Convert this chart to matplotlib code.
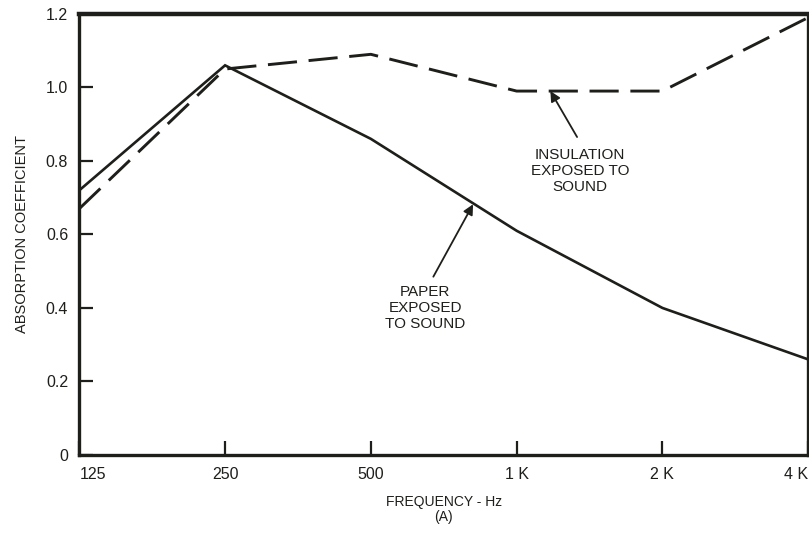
import numpy as np
import matplotlib.pyplot as plt

plt.rcParams['font.family'] = ['Liberation Sans', 'DejaVu Sans']

freqs = [125, 250, 500, 1000, 2000, 4000]
tick_labels = ['125', '250', '500', '1 K', '2 K', '4 K']
paper = [0.72, 1.06, 0.86, 0.61, 0.40, 0.26]
insulation = [0.67, 1.05, 1.09, 0.99, 0.99, 1.19]
y_ticks = [0, 0.2, 0.4, 0.6, 0.8, 1.0, 1.2]
y_tick_labels = ['0', '0.2', '0.4', '0.6', '0.8', '1.0', '1.2']

ink = '#1e1e1a'

fig = plt.figure(figsize=(8.09, 5.34), dpi=100)
ax = fig.add_axes([0.098, 0.148, 0.901, 0.826])

ax.plot(freqs, paper, color=ink, lw=1.9, solid_joinstyle='miter')
ax.plot(freqs, insulation, color=ink, lw=2.1, dashes=(10, 4))

ax.set_xscale('log')
ax.set_xlim(125, 4000)
ax.set_ylim(0, 1.2)
ax.set_xticks(freqs)
ax.set_xticklabels(tick_labels)
ax.minorticks_off()
ax.set_yticks(y_ticks)
ax.set_yticklabels(y_tick_labels)
ax.tick_params(axis='both', direction='in', length=10, width=1.6, color=ink,
               labelsize=11.5, labelcolor=ink)
ax.tick_params(axis='x', pad=9)
ax.tick_params(axis='y', pad=8)
xl = ax.get_xticklabels()
xl[0].set_horizontalalignment('left')
xl[-1].set_horizontalalignment('right')

for s in ax.spines.values():
    s.set_linewidth(2.4)
    s.set_color(ink)
ax.spines['top'].set_linewidth(3.2)

ax.set_ylabel('ABSORPTION COEFFICIENT', fontsize=10.5, color=ink, labelpad=12)
ax.set_xlabel('FREQUENCY - Hz\n(A)', fontsize=10, color=ink, labelpad=9,
              linespacing=1.1)

arrow = dict(arrowstyle='-|>', color=ink, lw=1.3, mutation_scale=15,
             shrinkA=0, shrinkB=0)

ax.text(1353, 0.772, 'INSULATION\nEXPOSED TO\nSOUND', ha='center', va='center',
        fontsize=11, color=ink, linespacing=1.2)
ax.annotate('', xy=(1174, 0.99), xytext=(1333, 0.865), arrowprops=arrow)

ax.text(648, 0.40, 'PAPER\nEXPOSED\nTO SOUND', ha='center', va='center',
        fontsize=11, color=ink, linespacing=1.2)
ax.annotate('', xy=(813, 0.682), xytext=(673, 0.485), arrowprops=arrow)

fig.savefig('out.png', dpi=100)
